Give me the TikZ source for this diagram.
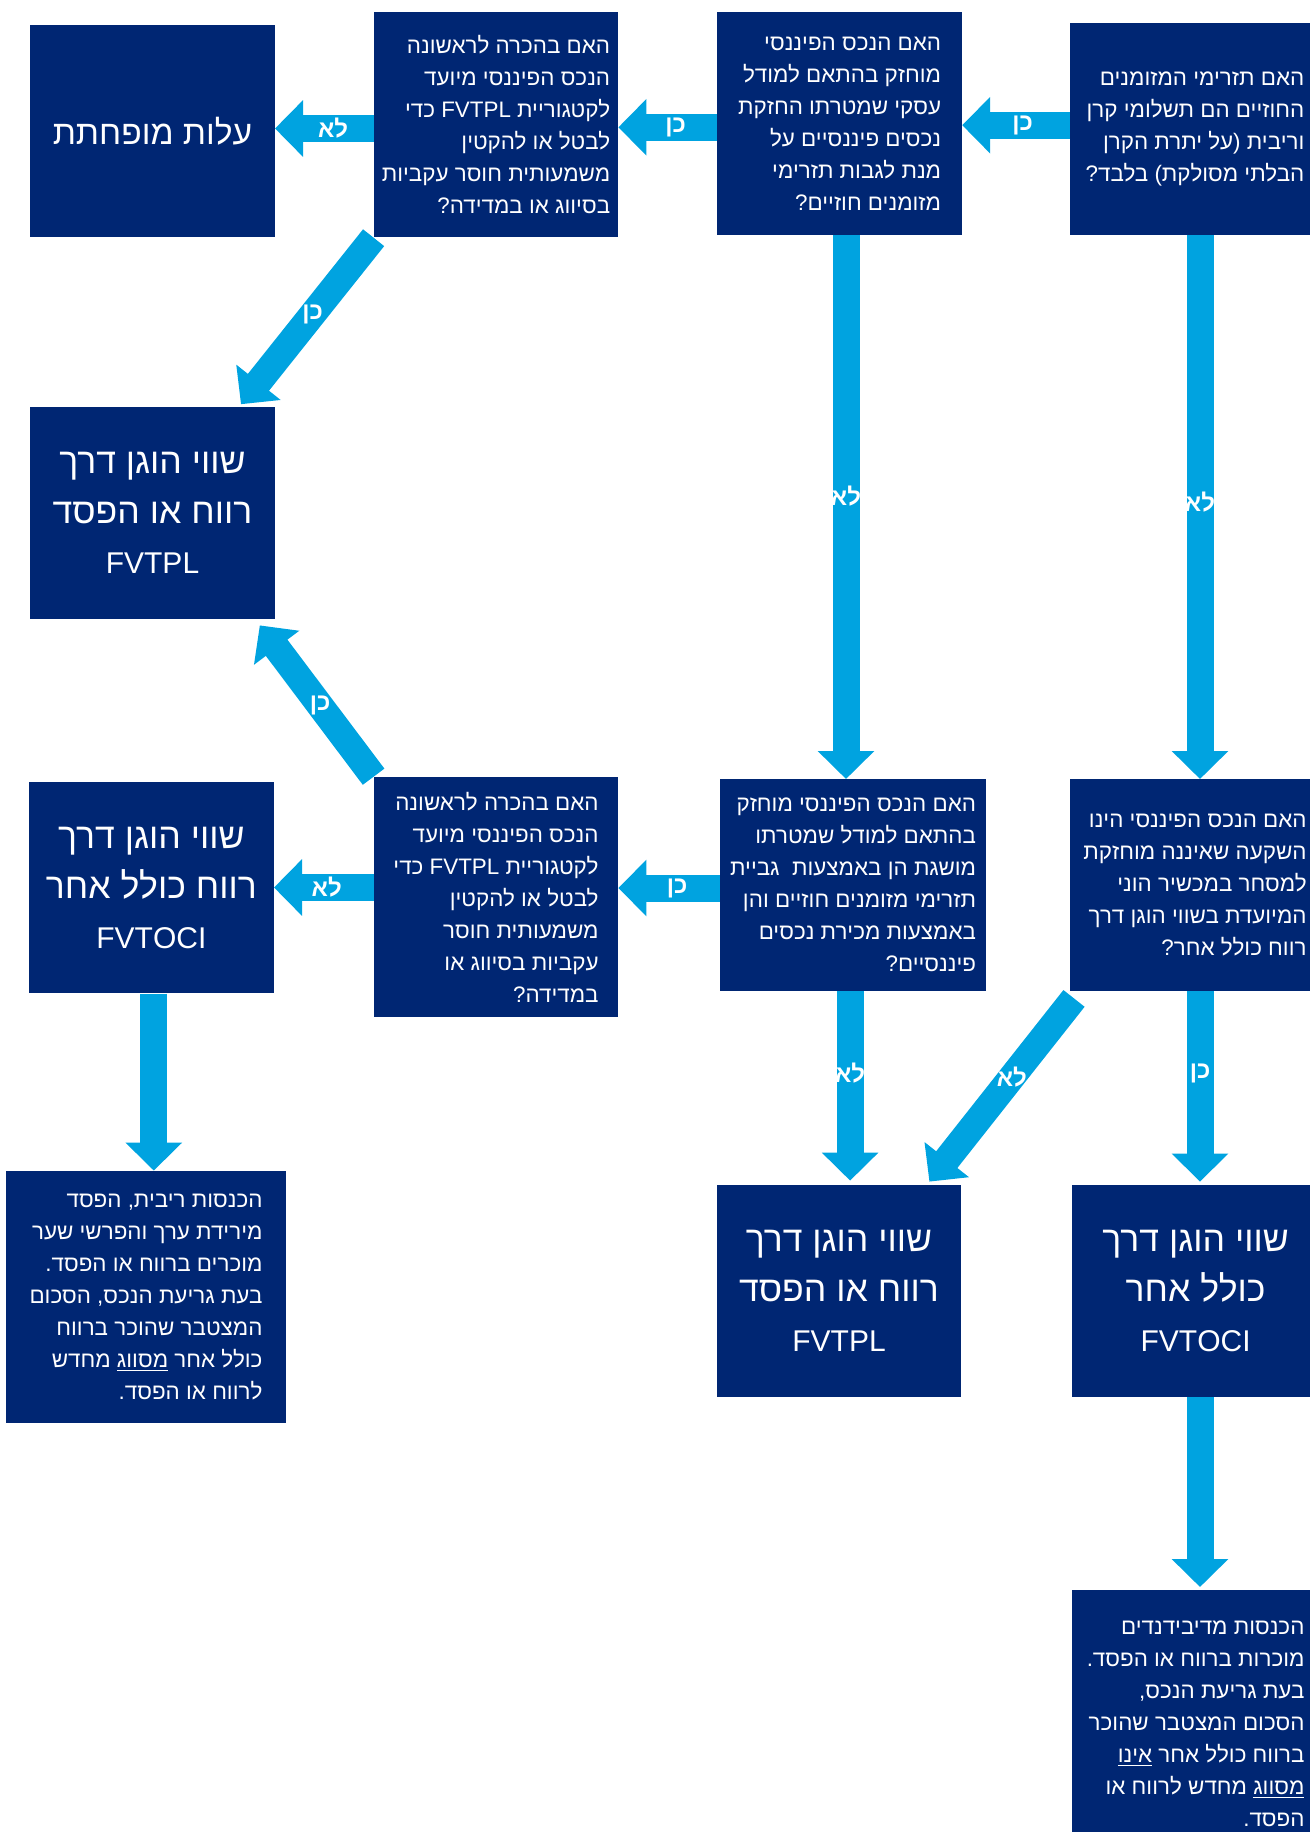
\documentclass[tikz,border=0pt]{standalone}
\usepackage{fontspec}
\setmainfont{Liberation Sans}[Script=Hebrew]
\usetikzlibrary{arrows.meta}
\TeXXeTstate=1
\newcommand{\rline}[1]{\beginR #1\endR}
\newcommand{\fvname}[1]{{\fontsize{15}{25}\selectfont #1}}
\definecolor{boxnavy}{RGB}{0,38,115}
\definecolor{flowblue}{RGB}{0,163,224}

\begin{document}
\begin{tikzpicture}[
  x=0.5pt, y=-0.5pt,
  qbox/.style={fill=boxnavy, text=white, align=right, inner sep=0pt, font=\fontsize{11.2}{16}\selectfont},
  rbox/.style={fill=boxnavy, text=white, align=center, inner sep=0pt, font=\fontsize{17.8}{25}\selectfont},
  flow/.style={draw=flowblue, line width=13.5pt, -{Triangle[width=27.5pt, length=14pt]}},
  lbl/.style={text=white, inner sep=0pt, font=\bfseries\fontsize{12}{14}\selectfont}
]
\useasboundingbox (0,0) rectangle (1310,1832);

\node[rbox, minimum width=122.1pt, minimum height=106.4pt, font=\fontsize{16.8}{25}\selectfont] (amort) at (152.5,130.9) {\rline{עלות מופחתת}};
\node[qbox, minimum width=122pt, minimum height=112.8pt] (desig) at (496,124.5)
  {\rline{האם בהכרה לראשונה}\\\rline{הנכס הפיננסי מיועד}\\\rline{לקטגוריית FVTPL כדי}\\\rline{לבטל או להקטין}\\\rline{משמעותית חוסר עקביות}\\\rline{בסיווג או במדידה?}};
\node[qbox, minimum width=122.2pt, minimum height=111.6pt] (model) at (839.6,123.3)
  {\rline{האם הנכס הפיננסי}\\\rline{מוחזק בהתאם למודל}\\\rline{עסקי שמטרתו החזקת}\\\rline{נכסים פיננסיים על}\\\rline{מנת לגבות תזרימי}\\\rline{מזומנים חוזיים?}};
\node[qbox, minimum width=124.6pt, minimum height=105.8pt] (sppi) at (1195,129.2)
  {\rline{האם תזרימי המזומנים}\\\rline{החוזיים הם תשלומי קרן}\\\rline{וריבית (על יתרת הקרן}\\\rline{הבלתי מסולקת) בלבד?}};

\node[rbox, minimum width=122.1pt, minimum height=106.4pt] (fvtplA) at (152.5,513)
  {\rline{שווי הוגן דרך}\\\rline{רווח או הפסד}\\\fvname{FVTPL}};

\node[rbox, minimum width=122.2pt, minimum height=105.8pt] (fvoci) at (151.4,887.5)
  {\rline{שווי הוגן דרך}\\\rline{רווח כולל אחר}\\\fvname{FVTOCI}};
\node[qbox, minimum width=122pt, minimum height=119.8pt] (desigB) at (496,896.9)
  {\rline{האם בהכרה לראשונה}\\\rline{הנכס הפיננסי מיועד}\\\rline{לקטגוריית FVTPL כדי}\\\rline{לבטל או להקטין}\\\rline{משמעותית חוסר}\\\rline{עקביות בסיווג או}\\\rline{במדידה?}};
\node[qbox, minimum width=133.2pt, minimum height=105.8pt] (modelB) at (853.1,885.2)
  {\rline{האם הנכס הפיננסי מוחזק}\\\rline{בהתאם למודל שמטרתו}\\\rline{מושגת הן באמצעות~ גביית}\\\rline{תזרימי מזומנים חוזיים והן}\\\rline{באמצעות מכירת נכסים}\\\rline{פיננסיים?}};
\node[qbox, minimum width=124.6pt, minimum height=105.8pt] (equity) at (1195,885.2)
  {\rline{האם הנכס הפיננסי הינו}\\\rline{השקעה שאיננה מוחזקת}\\\rline{למסחר במכשיר הוני}\\\rline{המיועדת בשווי הוגן דרך}\\\rline{רווח כולל אחר?}};

\node[qbox, minimum width=140.3pt, minimum height=126.2pt] (interest) at (146,1297.2)
  {\rline{הכנסות ריבית, הפסד}\\\rline{מירידת ערך והפרשי שער}\\\rline{מוכרים ברווח או הפסד.}\\\rline{בעת גריעת הנכס, הסכום}\\\rline{המצטבר שהוכר ברווח}\\\rline{כולל אחר \underline{מסווג} מחדש}\\\rline{לרווח או הפסד.}};
\node[rbox, minimum width=121.6pt, minimum height=105.8pt] (fvtplB) at (839,1290.8)
  {\rline{שווי הוגן דרך}\\\rline{רווח או הפסד}\\\fvname{FVTPL}};
\node[rbox, minimum width=124pt, minimum height=105.8pt] (fvociB) at (1195.6,1290.8)
  {\rline{שווי הוגן דרך}\\\rline{כולל אחר}\\\fvname{FVTOCI}};

\node[qbox, minimum width=124pt, minimum height=133.3pt] (dividend) at (1195.6,1723.7)
  {\rline{הכנסות מדיבידנדים}\\\rline{מוכרות ברווח או הפסד.}\\\rline{בעת גריעת הנכס,}\\\rline{הסכום המצטבר שהוכר}\\\rline{ברווח כולל אחר \underline{אינו}}\\\rline{\underline{מסווג} מחדש לרווח או}\\\rline{הפסד.}};

\draw[flow] ([yshift=2pt]sppi.west) -- ([yshift=2pt]sppi.west -| model.east) node[lbl, pos=0.44] {\rline{כן}};
\draw[flow] ([yshift=-2pt]model.west) -- ([yshift=-2pt]model.west -| desig.east) node[lbl, pos=0.42] {\rline{כן}};
\draw[flow] ([yshift=-2pt]desig.west) -- ([yshift=-2pt]desig.west -| amort.east) node[lbl, pos=0.41] {\rline{לא}};
\draw[flow] (desig.south west) -- ([xshift=-17pt, yshift=1pt]fvtplA.north east) node[lbl, pos=0.46] {\rline{כן}};
\draw[flow] ([xshift=3.2pt]model.south) -- ([xshift=3.2pt]model.south |- modelB.north) node[lbl, pos=0.48] {\rline{לא}};
\draw[flow] ([xshift=2.5pt]sppi.south) -- ([xshift=2.5pt]sppi.south |- equity.north) node[lbl, pos=0.49] {\rline{לא}};
\draw[flow] (desigB.north west) -- ([xshift=-7.6pt, yshift=-2.8pt]fvtplA.south east) node[lbl, pos=0.47] {\rline{כן}};
\draw[flow] ([yshift=-1.4pt]modelB.west) -- ([yshift=-1.4pt]modelB.west -| desigB.east) node[lbl, pos=0.42] {\rline{כן}};
\draw[flow] (fvoci.east -| desigB.west) -- (fvoci.east) node[lbl, pos=0.47] {\rline{לא}};
\draw[flow] ([xshift=1.2pt]fvoci.south) -- ([xshift=1.2pt]fvoci.south |- interest.north);
\draw[flow] ([xshift=-1.5pt]modelB.south) -- ([xshift=-1.5pt, yshift=2pt]modelB.south |- fvtplB.north) node[lbl, pos=0.43] {\rline{לא}};
\draw[flow] ([xshift=2pt, yshift=-3.5pt]equity.south west) -- ([xshift=-15.8pt, yshift=1.5pt]fvtplB.north east) node[lbl, pos=0.43] {\rline{לא}};
\draw[flow] ([xshift=2.5pt]equity.south) -- ([xshift=2.5pt, yshift=1.5pt]equity.south |- fvociB.north) node[lbl, pos=0.43] {\rline{כן}};
\draw[flow] ([xshift=2.2pt]fvociB.south) -- ([xshift=2.2pt, yshift=1.5pt]fvociB.south |- dividend.north);
\end{tikzpicture}
\end{document}
